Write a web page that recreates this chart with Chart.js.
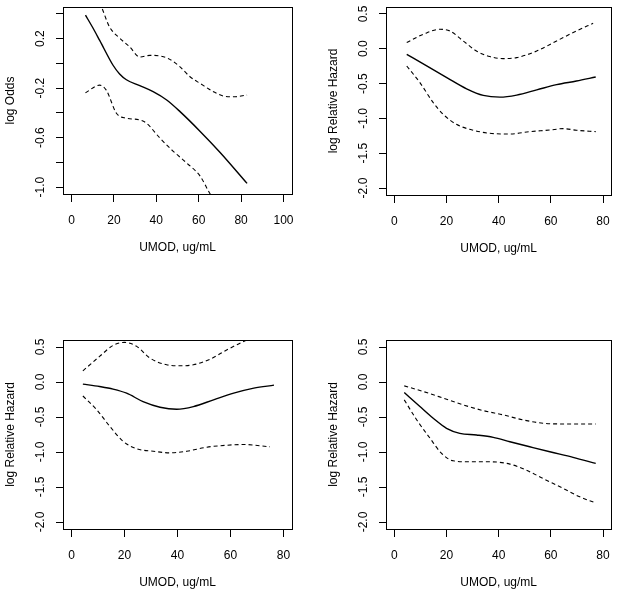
<!DOCTYPE html>
<html><head><meta charset="utf-8">
<script src="https://cdn.jsdelivr.net/npm/chart.js@4.4.1/dist/chart.umd.min.js"></script>
<style>
html,body{margin:0;padding:0;background:#fff;}
#wrap{position:relative;width:621px;height:599px;overflow:hidden;background:#fff;}
canvas{position:absolute;}
</style></head><body><div id="wrap">
<canvas id="c1" width="310" height="300" style="left:0;top:0"></canvas>
<canvas id="c2" width="311" height="300" style="left:310px;top:0"></canvas>
<canvas id="c3" width="310" height="299" style="left:0;top:300px"></canvas>
<canvas id="c4" width="311" height="299" style="left:310px;top:300px"></canvas>
</div>
<script>
// ---- axis text ----
const xTitle = 'UMOD, ug/mL';
const yTitleOdds = 'log Odds';
const yTitleHazard = 'log Relative Hazard';

// ---- ticks ----
const p1XTicks = [0, 20, 40, 60, 80, 100];
const p1YTicks = [0.4, 0.2, 0.0, -0.2, -0.4, -0.6, -0.8, -1.0];
const p1YLabelValues = [0.2, -0.2, -0.6, -1.0];
const p1YLabels = ['0.2', '-0.2', '-0.6', '-1.0'];
const hzXTicks = [0, 20, 40, 60, 80];
const hzYTicks = [0.5, 0.0, -0.5, -1.0, -1.5, -2.0];
const hzYLabels = ['0.5', '0.0', '-0.5', '-1.0', '-1.5', '-2.0'];

// ---- panel 1 (log Odds) ----
const p1FitX = [6.6, 10, 13.3, 19.6, 22.7, 25.9, 32.2, 38.5, 44.9, 51.2, 60.7, 70.1, 82.8];
const p1FitY = [0.39, 0.29, 0.186, -0.015, -0.085, -0.132, -0.18, -0.229, -0.296, -0.39, -0.55, -0.72, -0.97];
const p1UpX = [6.6, 10, 14.1, 18.0, 22.7, 27.5, 32.2, 37, 41.7, 45.6, 51.2, 55.9, 60.7, 67, 71.7, 76.4, 82.8];
const p1UpY = [0.75, 0.62, 0.46, 0.293, 0.205, 0.133, 0.052, 0.065, 0.06, 0.04, -0.028, -0.108, -0.162, -0.229, -0.264, -0.27, -0.256];
const p1LoX = [6.6, 13.3, 16.4, 21.2, 25.9, 32.2, 35.4, 41.7, 48, 54.3, 60.7, 64.6, 70, 76.4, 82.8];
const p1LoY = [-0.237, -0.176, -0.216, -0.403, -0.443, -0.457, -0.484, -0.604, -0.711, -0.805, -0.912, -1.032, -1.19, -1.36, -1.55];

// ---- panel 2 ----
const p2FitX = [4.75, 12.4, 20.1, 27.7, 34.1, 40.5, 46.9, 54.6, 62.2, 69.8, 77.2];
const p2FitY = [-0.079, -0.247, -0.414, -0.575, -0.67, -0.695, -0.665, -0.59, -0.515, -0.463, -0.405];
const p2UpX = [4.75, 11.1, 17.5, 21.3, 26.4, 31.5, 36.6, 41.7, 46.9, 54.6, 62.2, 69.8, 76.2];
const p2UpY = [0.089, 0.208, 0.28, 0.256, 0.112, -0.032, -0.112, -0.141, -0.127, -0.032, 0.112, 0.256, 0.366];
const p2LoX = [4.75, 9.8, 14.9, 18.7, 23.8, 28.9, 36.6, 44.3, 52, 59.6, 64.7, 69.8, 77.2];
const p2LoY = [-0.247, -0.486, -0.773, -0.941, -1.085, -1.157, -1.214, -1.224, -1.19, -1.167, -1.147, -1.17, -1.19];

// ---- panel 3 ----
const p3FitX = [4.3, 10.6, 15.7, 20.8, 27, 33.4, 39.7, 46, 53.6, 61.2, 68.8, 76.4];
const p3FitY = [-0.03, -0.065, -0.102, -0.16, -0.28, -0.36, -0.389, -0.351, -0.255, -0.16, -0.088, -0.045];
const p3UpX = [4.3, 10.6, 15.7, 20.1, 24.6, 29.6, 35.9, 41, 46, 52.4, 58.7, 66.3, 71, 75.5];
const p3UpY = [0.16, 0.365, 0.523, 0.566, 0.509, 0.342, 0.246, 0.232, 0.246, 0.328, 0.461, 0.605, 0.7, 0.79];
const p3LoX = [4.3, 9.4, 14.4, 19.4, 24.6, 30.9, 37.2, 43.5, 51.1, 58.7, 65, 74.9];
const p3LoY = [-0.2, -0.391, -0.63, -0.845, -0.954, -0.989, -1.012, -0.989, -0.931, -0.903, -0.893, -0.926];

// ---- panel 4 ----
const p4FitX = [3.8, 9.8, 14.9, 20, 25.1, 31.5, 37.9, 44.3, 51.9, 59.6, 68.5, 77.2];
const p4FitY = [-0.15, -0.351, -0.518, -0.661, -0.733, -0.757, -0.791, -0.853, -0.925, -0.997, -1.077, -1.163];
const p4UpX = [3.8, 11.1, 18.8, 26.4, 34.1, 41.7, 49.4, 57, 64.7, 77.2];
const p4UpY = [-0.055, -0.136, -0.231, -0.327, -0.409, -0.47, -0.542, -0.589, -0.599, -0.599];
const p4LoX = [3.8, 8.6, 13.7, 18.1, 22.6, 29, 36.6, 44.3, 50.6, 57, 64.7, 71.1, 77.2];
const p4LoY = [-0.255, -0.542, -0.805, -1.02, -1.126, -1.14, -1.14, -1.173, -1.26, -1.379, -1.52, -1.641, -1.727];

// ---- rendering ----
const FONT = '"Liberation Sans", Arial, Helvetica, sans-serif';
const INK = '#000';

const zip = (xs, ys) => xs.map((x, i) => ({x: x, y: ys[i]}));

const rPlot = {
  id: 'rPlot',
  afterDraw(chart, args, opts) {
    const {ctx, chartArea: a, scales} = chart;
    ctx.save();
    ctx.strokeStyle = INK;
    ctx.lineWidth = 1;
    const l = Math.round(a.left) + 0.5, t = Math.round(a.top) + 0.5;
    ctx.strokeRect(l, t, Math.round(a.right) - Math.round(a.left), Math.round(a.bottom) - Math.round(a.top));
    ctx.font = '12px ' + FONT;
    ctx.fillStyle = INK;
    ctx.textAlign = 'center';
    ctx.textBaseline = 'middle';
    opts.values.forEach((v, i) => {
      const py = scales.y.getPixelForValue(v);
      ctx.save();
      ctx.translate(a.left - 22, py);
      ctx.rotate(-Math.PI / 2);
      ctx.fillText(opts.labels[i], 0, 0);
      ctx.restore();
    });
    ctx.restore();
  }
};

function makePanel(id, box, W, H, xr, yr, xTicks, yTicks, yLabVals, yLabs, yTitle, series) {
  const ctx = document.getElementById(id);
  const ds = [
    {data: zip(series[0], series[1]), borderWidth: 1.4, borderDash: []},
    {data: zip(series[2], series[3]), borderWidth: 1.1, borderDash: [4, 3]},
    {data: zip(series[4], series[5]), borderWidth: 1.1, borderDash: [4, 3]}
  ].map(d => Object.assign(d, {
    showLine: true, pointRadius: 0, borderColor: INK, backgroundColor: INK,
    cubicInterpolationMode: 'monotone', fill: false, clip: 0
  }));
  return new Chart(ctx, {
    type: 'scatter',
    data: {datasets: ds},
    plugins: [rPlot],
    options: {
      responsive: false, animation: false, devicePixelRatio: 1,
      layout: {padding: {left: 0, top: box.top, right: W - box.right, bottom: 0}},
      plugins: {legend: {display: false}, tooltip: {enabled: false},
        rPlot: {values: yLabVals, labels: yLabs}},
      scales: {
        x: {
          type: 'linear', position: 'bottom', min: xr[0], max: xr[1],
          afterBuildTicks: s => { s.ticks = xTicks.map(v => ({value: v})); },
          afterFit: s => { s.height = H - box.bottom; },
          grid: {drawOnChartArea: false, drawTicks: true, tickLength: 8, color: INK, lineWidth: 1},
          border: {display: false},
          ticks: {color: INK, font: {family: FONT, size: 12}, padding: 11, autoSkip: false,
                  maxRotation: 0, minRotation: 0, callback: v => String(v)},
          title: {display: true, text: xTitle, color: INK, font: {family: FONT, size: 12},
                  padding: {top: 0, bottom: H - 7.2 - (box.bottom + 54)}}
        },
        y: {
          type: 'linear', position: 'left', min: yr[0], max: yr[1],
          afterBuildTicks: s => { s.ticks = yTicks.map(v => ({value: v})); },
          afterFit: s => { s.width = box.left; },
          grid: {drawOnChartArea: false, drawTicks: true, tickLength: 7, color: INK, lineWidth: 1},
          border: {display: false},
          ticks: {display: false},
          title: {display: true, text: yTitle, color: INK, font: {family: FONT, size: 12},
                  padding: {top: box.left - 52 - 7.2, bottom: 0}}
        }
      }
    }
  });
}

makePanel('c1', {left: 63, top: 7, right: 292, bottom: 194}, 310, 300, [-4, 104], [-1.056, 0.456],
  p1XTicks, p1YTicks, p1YLabelValues, p1YLabels, yTitleOdds,
  [p1FitX, p1FitY, p1UpX, p1UpY, p1LoX, p1LoY]);
makePanel('c2', {left: 76, top: 7, right: 303, bottom: 195}, 311, 300, [-3.2, 83.2], [-2.1, 0.6],
  hzXTicks, hzYTicks, hzYTicks, hzYLabels, yTitleHazard,
  [p2FitX, p2FitY, p2UpX, p2UpY, p2LoX, p2LoY]);
makePanel('c3', {left: 63, top: 40, right: 292, bottom: 229}, 310, 299, [-3.2, 83.2], [-2.1, 0.6],
  hzXTicks, hzYTicks, hzYTicks, hzYLabels, yTitleHazard,
  [p3FitX, p3FitY, p3UpX, p3UpY, p3LoX, p3LoY]);
makePanel('c4', {left: 76, top: 40, right: 303, bottom: 229}, 311, 299, [-3.2, 83.2], [-2.1, 0.6],
  hzXTicks, hzYTicks, hzYTicks, hzYLabels, yTitleHazard,
  [p4FitX, p4FitY, p4UpX, p4UpY, p4LoX, p4LoY]);
</script></body></html>
